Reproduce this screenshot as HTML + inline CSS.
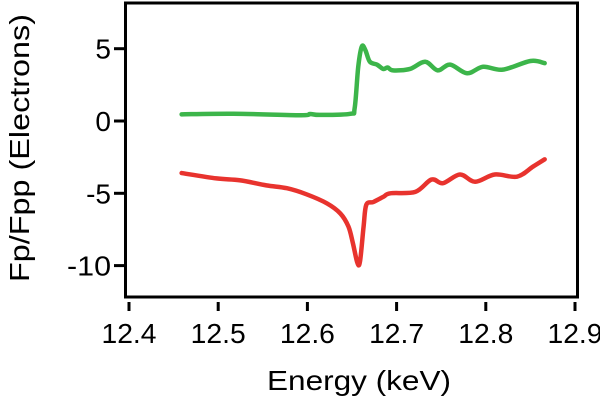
<!DOCTYPE html>
<html><head><meta charset="utf-8"><style>
html,body{margin:0;padding:0;background:#fff;}
svg{display:block;font-family:"Liberation Sans",Arial,sans-serif;}
</style></head><body>
<svg id="chart" width="600" height="401" viewBox="0 0 600 401" xmlns="http://www.w3.org/2000/svg">
<rect x="125.5" y="3" width="452" height="294" fill="none" stroke="#000" stroke-width="3"/>
<g id="yticks"></g>
<g id="xticks"></g>
<g id="series"></g>
<text x="359" y="390" font-size="28" text-anchor="middle" textLength="184" lengthAdjust="spacingAndGlyphs">Energy (keV)</text>
<text transform="translate(29,148) rotate(-90)" font-size="28" text-anchor="middle" textLength="268" lengthAdjust="spacingAndGlyphs">Fp/Fpp (Electrons)</text>
</svg>
<script>
const xTicks = [12.4, 12.5, 12.6, 12.7, 12.8, 12.9];
const xTickLabels = ["12.4","12.5","12.6","12.7","12.8","12.9"];
const yTicks = [5, 0, -5, -10];
const yTickLabels = ["5","0","-5","-10"];
const fpEnergy = [12.459,12.498,12.524,12.554,12.577,12.599,12.622,12.637,12.646,12.651,12.656,12.659,12.663,12.666,12.674,12.685,12.693,12.721,12.739,12.752,12.771,12.788,12.810,12.835,12.853,12.866];
const fpValues = [-3.6,-3.97,-4.1,-4.45,-4.65,-5.07,-5.7,-6.4,-7.3,-8.45,-9.8,-9.7,-7.3,-5.8,-5.6,-5.25,-5.0,-4.9,-4.05,-4.3,-3.7,-4.2,-3.7,-3.85,-3.15,-2.65];
const fppEnergy = [12.459,12.517,12.592,12.603,12.614,12.648,12.653,12.657,12.661,12.665,12.670,12.678,12.685,12.690,12.696,12.715,12.732,12.746,12.760,12.779,12.797,12.819,12.850,12.866];
const fppValues = [0.46,0.5,0.4,0.48,0.42,0.5,0.9,3.75,5.15,4.9,4.1,3.9,3.6,3.7,3.5,3.6,4.1,3.5,3.9,3.3,3.75,3.55,4.15,4.0];

const NS="http://www.w3.org/2000/svg";
function xs(v){return 129 + (v-12.4)*892;}
function ys(v){return 121 - v*14.46;}
function mk(t,a,p){const e=document.createElementNS(NS,t);for(const k in a)e.setAttribute(k,a[k]);p.appendChild(e);return e;}
const yg=document.getElementById('yticks');
yTicks.forEach((v,i)=>{
  const l=mk('line',{x1:114,x2:126,y1:ys(v),y2:ys(v),stroke:'#000','stroke-width':3},yg);
  
  
  const t=mk('text',{x:111,y:ys(v)+10,'font-size':28,'text-anchor':'end'},yg);
  t.textContent=yTickLabels[i];
  if(yTickLabels[i].length===3){t.setAttribute('textLength','44');t.setAttribute('lengthAdjust','spacingAndGlyphs');}
  
  
});
const xg=document.getElementById('xticks');
xTicks.forEach((v,i)=>{
  const l=mk('line',{x1:xs(v),x2:xs(v),y1:302,y2:311,stroke:'#000','stroke-width':3},xg);
  
  
  const t=mk('text',{x:xs(v),y:343,'font-size':28,'text-anchor':'middle',textLength:55,lengthAdjust:'spacingAndGlyphs'},xg);
  t.textContent=xTickLabels[i];
  
  
});
function smooth(xa,ya){
  const p=xa.map((x,i)=>[xs(x),ys(ya[i])]);
  let d='M'+p[0][0]+','+p[0][1];
  for(let i=0;i<p.length-1;i++){
    const p0=p[Math.max(0,i-1)],p1=p[i],p2=p[i+1],p3=p[Math.min(p.length-1,i+2)];
    const c1=[p1[0]+(p2[0]-p0[0])/6,p1[1]+(p2[1]-p0[1])/6];
    const c2=[p2[0]-(p3[0]-p1[0])/6,p2[1]-(p3[1]-p1[1])/6];
    d+=' C'+c1+' '+c2+' '+p2;
  }
  return d;
}
const sg=document.getElementById('series');
const g1=mk('path',{d:smooth(fppEnergy,fppValues),fill:'none',stroke:'#3cb54a','stroke-width':4.5,'stroke-linejoin':'round','stroke-linecap':'round'},sg);


const r1=mk('path',{d:smooth(fpEnergy,fpValues),fill:'none',stroke:'#e8332e','stroke-width':4.5,'stroke-linejoin':'round','stroke-linecap':'round'},sg);


</script>
</body></html>
